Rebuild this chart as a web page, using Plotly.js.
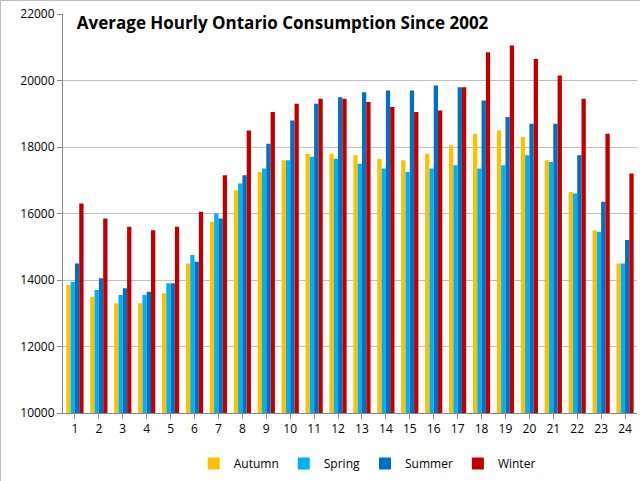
<!DOCTYPE html>
<html>
<head>
<meta charset="utf-8">
<script src="https://cdn.plot.ly/plotly-3.0.1.min.js"></script>
<style>
	html, body { margin: 0; padding: 0; background: #fff; }
	#plot { width: 640px; height: 481px; box-sizing: border-box; border: 1px solid #bdbdbd; }
</style>
</head>
<body>
<div id="plot"></div>
<script>
const hours = ["1","2","3","4","5","6","7","8","9","10","11","12","13","14","15","16","17","18","19","20","21","22","23","24"];
const autumn = [13850,13500,13300,13300,13600,14500,15750,16700,17250,17600,17800,17800,17750,17650,17600,17800,18050,18400,18500,18300,17600,16650,15500,14500];
const spring = [13950,13700,13550,13550,13900,14750,16000,16900,17350,17600,17700,17650,17500,17350,17250,17350,17450,17350,17450,17750,17550,16600,15450,14500];
const summer = [14500,14050,13750,13650,13900,14550,15850,17150,18100,18800,19300,19500,19650,19700,19700,19850,19800,19400,18900,18700,18700,17750,16350,15200];
const winter = [16300,15850,15600,15500,15600,16050,17150,18500,19050,19300,19450,19450,19350,19200,19050,19100,19800,20850,21050,20650,20150,19450,18400,17200];

const series = [
	{ name: "Autumn", y: autumn, color: "#FFC000" },
	{ name: "Spring", y: spring, color: "#00B0F0" },
	{ name: "Summer", y: summer, color: "#0070C0" },
	{ name: "Winter", y: winter, color: "#C00000" },
];

const plotData = series.map((s) => ({
	x: hours,
	y: s.y,
	type: "bar",
	name: s.name,
	marker: { color: s.color },
}));

const layout = {
	width: 640,
	height: 481,
	margin: { l: 62, r: 4, t: 13, b: 64 },
	paper_bgcolor: "#fff",
	plot_bgcolor: "#fff",
	font: { family: "Open Sans, sans-serif", size: 12, color: "#000" },
	title: {
		text: "<b>Average Hourly Ontario Consumption Since 2002</b>",
		font: { size: 17, color: "#000" },
		x: 0.44, xanchor: "center", y: 0.955, yanchor: "middle",
	},
	barmode: "group",
	bargap: 0.28,
	bargroupgap: 0,
	xaxis: {
		type: "category",
		showline: true, linecolor: "#888",
		ticks: "outside", ticklen: 5, tickcolor: "#888",
		showgrid: false,
		tickfont: { size: 12 },
	},
	yaxis: {
		range: [10000, 22000],
		dtick: 2000,
		showline: true, linecolor: "#888",
		gridcolor: "#c0c0c0",
		ticks: "outside", ticklen: 5, tickcolor: "#888",
		tickformat: "d",
		tickfont: { size: 12 },
		zeroline: false,
	},
	showlegend: true,
	legend: {
		orientation: "h",
		x: 0.53, xanchor: "center",
		y: -0.09, yanchor: "top",
		font: { size: 12 },
		itemwidth: 30,
	},
};

Plotly.newPlot("plot", plotData, layout, { displayModeBar: false });
</script>
</body>
</html>
